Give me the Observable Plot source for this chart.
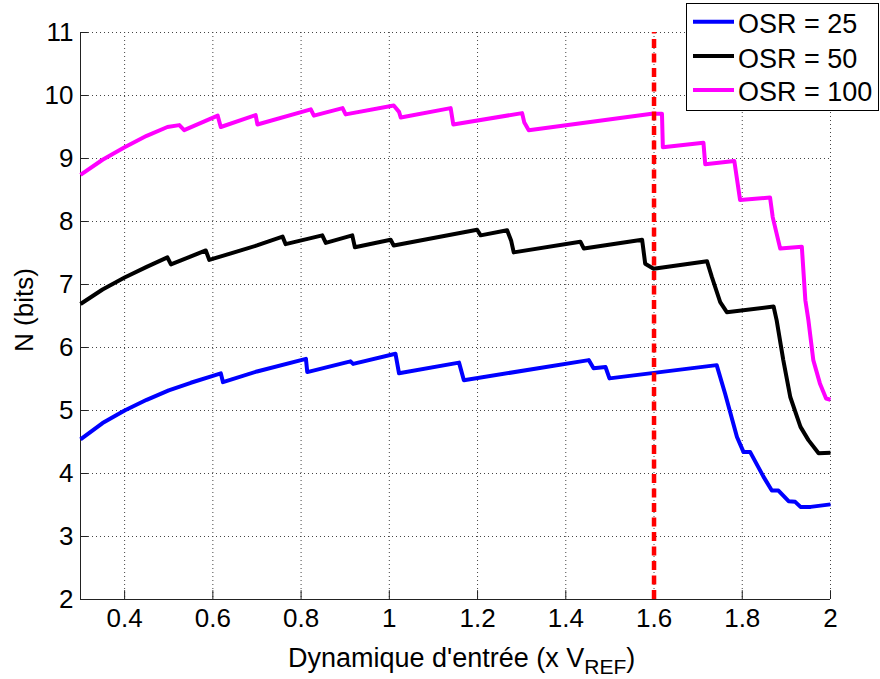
<!DOCTYPE html>
<html><head><meta charset="utf-8">
<script src="https://cdn.jsdelivr.net/npm/d3@7"></script>
<script src="https://cdn.jsdelivr.net/npm/@observablehq/plot@0.6"></script>
<style>
body{margin:0;background:#fff;}
#chart{width:880px;height:679px;}
</style>
</head><body><div id="chart"></div>
<script>
// ---- data ----
const xTicks = [0.4, 0.6, 0.8, 1, 1.2, 1.4, 1.6, 1.8, 2];
const yTicks = [2, 3, 4, 5, 6, 7, 8, 9, 10, 11];
const seriesNames = ["OSR = 25", "OSR = 50", "OSR = 100"];
const seriesColors = ["#0000ff", "#000000", "#ff00ff"];
const markerX = 1.6;

const osr25X = [0.30,0.35,0.40,0.45,0.50,0.55,0.60,0.618,0.623,0.70,0.811,0.814,0.912,0.918,1.014,1.022,1.158,1.169,1.452,1.463,1.490,1.499,1.742,1.761,1.788,1.803,1.818,1.848,1.867,1.882,1.905,1.920,1.932,1.955,2.0];
const osr25Y = [4.54,4.80,5.00,5.17,5.32,5.44,5.55,5.59,5.45,5.62,5.82,5.61,5.78,5.74,5.90,5.59,5.76,5.48,5.80,5.67,5.69,5.51,5.72,5.27,4.58,4.34,4.34,3.95,3.73,3.73,3.56,3.55,3.47,3.47,3.51];

const osr50X = [0.30,0.35,0.40,0.45,0.497,0.505,0.584,0.592,0.70,0.758,0.765,0.848,0.856,0.916,0.922,1.003,1.010,1.199,1.207,1.267,1.276,1.282,1.433,1.441,1.573,1.580,1.599,1.720,1.731,1.750,1.765,1.871,1.878,1.893,1.909,1.932,1.950,1.973,2.0];
const osr50Y = [6.69,6.92,7.11,7.28,7.43,7.32,7.54,7.39,7.62,7.76,7.64,7.78,7.66,7.78,7.59,7.71,7.62,7.87,7.78,7.86,7.70,7.51,7.68,7.57,7.71,7.33,7.25,7.37,7.12,6.72,6.56,6.65,6.43,5.80,5.21,4.74,4.53,4.32,4.33];

const osr100X = [0.30,0.35,0.40,0.45,0.497,0.524,0.535,0.611,0.618,0.697,0.701,0.822,0.829,0.894,0.901,1.010,1.022,1.026,1.139,1.145,1.301,1.306,1.316,1.595,1.618,1.620,1.712,1.716,1.782,1.795,1.863,1.869,1.886,1.935,1.943,1.950,1.961,1.976,1.990,2.0];
const osr100Y = [8.74,8.98,9.18,9.36,9.50,9.53,9.45,9.68,9.50,9.69,9.54,9.78,9.68,9.80,9.70,9.84,9.74,9.65,9.80,9.54,9.72,9.57,9.45,9.71,9.71,9.18,9.25,8.91,8.96,8.34,8.38,8.07,7.57,7.60,6.75,6.43,5.80,5.43,5.19,5.17];

const seriesX = [osr25X, osr50X, osr100X];
const seriesY = [osr25Y, osr50Y, osr100Y];

const rows = seriesNames.flatMap((name, i) => seriesX[i].map((x, j) => ({series: name, x, y: seriesY[i][j]})));

const FONT = "'Liberation Sans', Arial, Helvetica, sans-serif";

const plot = Plot.plot({
  width: 880,
  height: 679,
  marginLeft: 80,
  marginRight: 50,
  marginTop: 32,
  marginBottom: 80,
  style: {fontFamily: FONT, fontSize: "26px", background: "#fff", color: "#000", overflow: "visible"},
  x: {domain: [0.3, 2], type: "linear"},
  y: {domain: [2, 11], type: "linear"},
  color: {domain: seriesNames, range: seriesColors},
  marks: [
    Plot.ruleX(xTicks, {x: d => d, stroke: "#444", strokeWidth: 1, strokeDasharray: "1,3"}),
    Plot.ruleY(yTicks, {y: d => d, stroke: "#444", strokeWidth: 1, strokeDasharray: "1,3"}),
    Plot.ruleX([0.3], {x: d => d, stroke: "#222", strokeWidth: 1}),
    Plot.ruleY([2], {y: d => d, stroke: "#222", strokeWidth: 1}),
    Plot.ruleX(xTicks, {x: d => d, y1: 2, y2: 2.14, stroke: "#222", strokeWidth: 1}),
    Plot.ruleY(yTicks, {y: d => d, x1: 0.3, x2: 0.318, stroke: "#222", strokeWidth: 1}),
    Plot.axisX({ticks: xTicks, tickSize: 0, tickPadding: 9, label: null, tickFormat: d => String(d), fontSize: 26}),
    Plot.axisY({ticks: yTicks, tickSize: 0, tickPadding: 7, label: null, tickFormat: d => String(d), fontSize: 26}),
    Plot.line(rows, {x: "x", y: "y", z: "series", stroke: "series", strokeWidth: 4, strokeLinejoin: "round", strokeLinecap: "butt"}),
    Plot.ruleX([markerX], {x: d => d, y1: 2, y2: 11, stroke: "#ff0000", strokeWidth: 4.5, strokeDasharray: "9,5.5"})
  ]
});

document.getElementById("chart").appendChild(plot);

const svg = d3.select(plot);
// x label with subscript
const xl = svg.append("text")
  .attr("x", 288).attr("y", 667).attr("text-anchor", "start")
  .attr("font-family", FONT).attr("font-size", 27).attr("fill", "#000");
xl.append("tspan").text("Dynamique d'entrée (x V");
xl.append("tspan").attr("font-size", 21).attr("dy", 7).text("REF");
xl.append("tspan").attr("dy", -7).text(")");

// y label
svg.append("text")
  .attr("transform", "translate(33,310) rotate(-90)")
  .attr("text-anchor", "middle")
  .attr("font-family", FONT).attr("font-size", 26).attr("fill", "#000")
  .text("N (bits)");

// legend
const lg = svg.append("g").attr("text-anchor", "start");
lg.append("rect").attr("x", 686.5).attr("y", 3.5).attr("width", 192).attr("height", 107)
  .attr("fill", "#fff").attr("stroke", "#000").attr("stroke-width", 1);
const lineYs = [21.7, 56, 90];
const textYs = [33, 67.5, 101];
seriesNames.forEach((name, i) => {
  lg.append("line").attr("x1", 693).attr("x2", 734).attr("y1", lineYs[i]).attr("y2", lineYs[i])
    .attr("stroke", seriesColors[i]).attr("stroke-width", 4);
  lg.append("text").attr("x", 738).attr("y", textYs[i]).attr("text-anchor", "start")
    .attr("font-family", FONT).attr("font-size", 27).attr("fill", "#000").text(name);
});
</script>
</body></html>
